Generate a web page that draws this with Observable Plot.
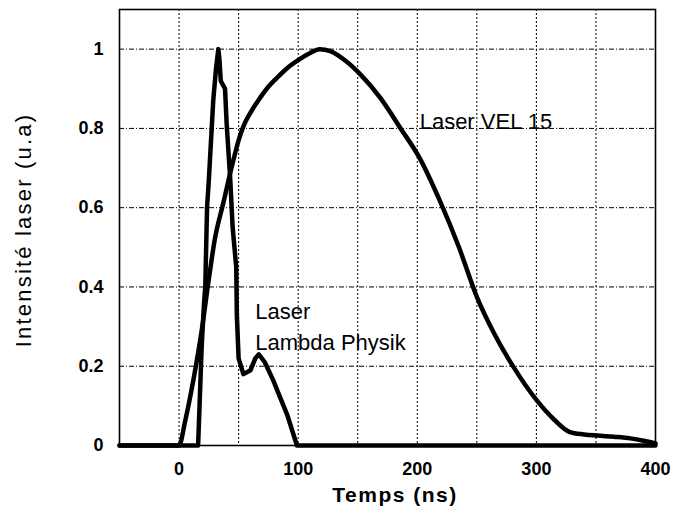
<!DOCTYPE html>
<html>
<head>
<meta charset="utf-8">
<script src="https://cdn.jsdelivr.net/npm/d3@7"></script>
<script src="https://cdn.jsdelivr.net/npm/@observablehq/plot@0.6"></script>
<style>
  body { margin: 0; background: #fff; }
  #chart svg { display: block; }
</style>
</head>
<body>
<div id="chart"></div>
<script>
// Laser VEL 15 pulse (time in ns, normalized intensity)
const velTime = [-50, 0, 5, 12, 19, 25, 30, 37, 44, 50, 54, 60, 68, 75, 82, 90, 100, 110, 118, 127, 140, 152, 169, 186, 202, 219, 235, 250, 265, 281, 300, 315, 328, 340, 351, 365, 379, 390, 400];
const velIntensity = [0, 0, 0.06, 0.165, 0.29, 0.42, 0.52, 0.61, 0.70, 0.77, 0.805, 0.84, 0.877, 0.905, 0.927, 0.95, 0.972, 0.99, 1.0, 0.995, 0.97, 0.937, 0.877, 0.80, 0.725, 0.617, 0.5, 0.375, 0.28, 0.197, 0.115, 0.065, 0.034, 0.028, 0.025, 0.022, 0.018, 0.012, 0.005];

// Laser Lambda Physik pulse
const lpTime = [-50, 16, 19, 21, 22, 23.5, 25, 28.7, 31, 33, 34, 35, 38.6, 40, 43, 45, 48, 48.5, 50, 54, 60, 64, 67, 72, 79, 85, 90.5, 99, 400];
const lpIntensity = [0, 0, 0.25, 0.36, 0.40, 0.60, 0.67, 0.87, 0.95, 1.0, 0.97, 0.92, 0.90, 0.81, 0.67, 0.55, 0.45, 0.33, 0.22, 0.18, 0.19, 0.22, 0.23, 0.21, 0.165, 0.12, 0.08, 0, 0];

const xTicks = [0, 100, 200, 300, 400];
const xGrid = [0, 50, 100, 150, 200, 250, 300, 350];
const yTicks = [0, 0.2, 0.4, 0.6, 0.8, 1];
const yGrid = [0.2, 0.4, 0.6, 0.8, 1];

const xLabel = "Temps (ns)";
const yLabel = "Intensité laser (u.a)";
const annotations = [
  {t: 202, v: 0.853, text: "Laser VEL 15"},
  {t: 64, v: 0.374, text: "Laser\nLambda Physik"}
];

const vel = velTime.map((t, i) => ({t, v: velIntensity[i]}));
const lp = lpTime.map((t, i) => ({t, v: lpIntensity[i]}));

const plot = Plot.plot({
  width: 673,
  height: 524,
  marginLeft: 119,
  marginRight: 18,
  marginTop: 9,
  marginBottom: 79,
  style: {fontFamily: "Liberation Sans, Arial, sans-serif", fontSize: "18px", color: "#000", background: "#fff"},
  x: {domain: [-50, 400]},
  y: {domain: [0, 1.1]},
  marks: [
    Plot.gridX(xGrid, {stroke: "#000", strokeOpacity: 1, strokeWidth: 1, strokeDasharray: "2,2"}),
    Plot.gridY(yGrid, {stroke: "#000", strokeOpacity: 1, strokeWidth: 1, strokeDasharray: "5,2,1,2"}),
    Plot.axisY(yTicks, {anchor: "left", tickSize: 0, tickPadding: 16, tickFormat: d => String(d), fontWeight: "bold", label: null, letterSpacing: "1px"}),
    Plot.axisX(xTicks, {anchor: "bottom", tickSize: 0, tickPadding: 17, tickFormat: d => String(d), fontWeight: "bold", label: null, letterSpacing: "1px"}),
    Plot.line(vel, {x: "t", y: "v", stroke: "#000", strokeWidth: 4.5, strokeLinejoin: "round", strokeLinecap: "round", curve: "monotone-x"}),
    Plot.line(lp, {x: "t", y: "v", stroke: "#000", strokeWidth: 4.5, strokeLinejoin: "round", strokeLinecap: "round"}),
    Plot.text(annotations, {x: "t", y: "v", text: "text", textAnchor: "start", lineAnchor: "top", lineHeight: 1.41, fontSize: 22, fill: "#000", letterSpacing: "1.8px"}),
    Plot.frame({stroke: "#000", strokeWidth: 1.6})
  ]
});

// Axis titles
const svg = d3.select(plot);
svg.append("text")
  .attr("x", 395).attr("y", 502)
  .attr("text-anchor", "middle")
  .attr("font-size", 21).attr("font-weight", "bold")
  .attr("letter-spacing", "1.5px")
  .attr("fill", "#000")
  .text(xLabel);
svg.append("text")
  .attr("transform", "translate(31,230) rotate(-90)")
  .attr("text-anchor", "middle")
  .attr("font-size", 22)
  .attr("letter-spacing", "2.2px")
  .attr("fill", "#000")
  .text(yLabel);

document.getElementById("chart").appendChild(plot);
</script>
</body>
</html>
